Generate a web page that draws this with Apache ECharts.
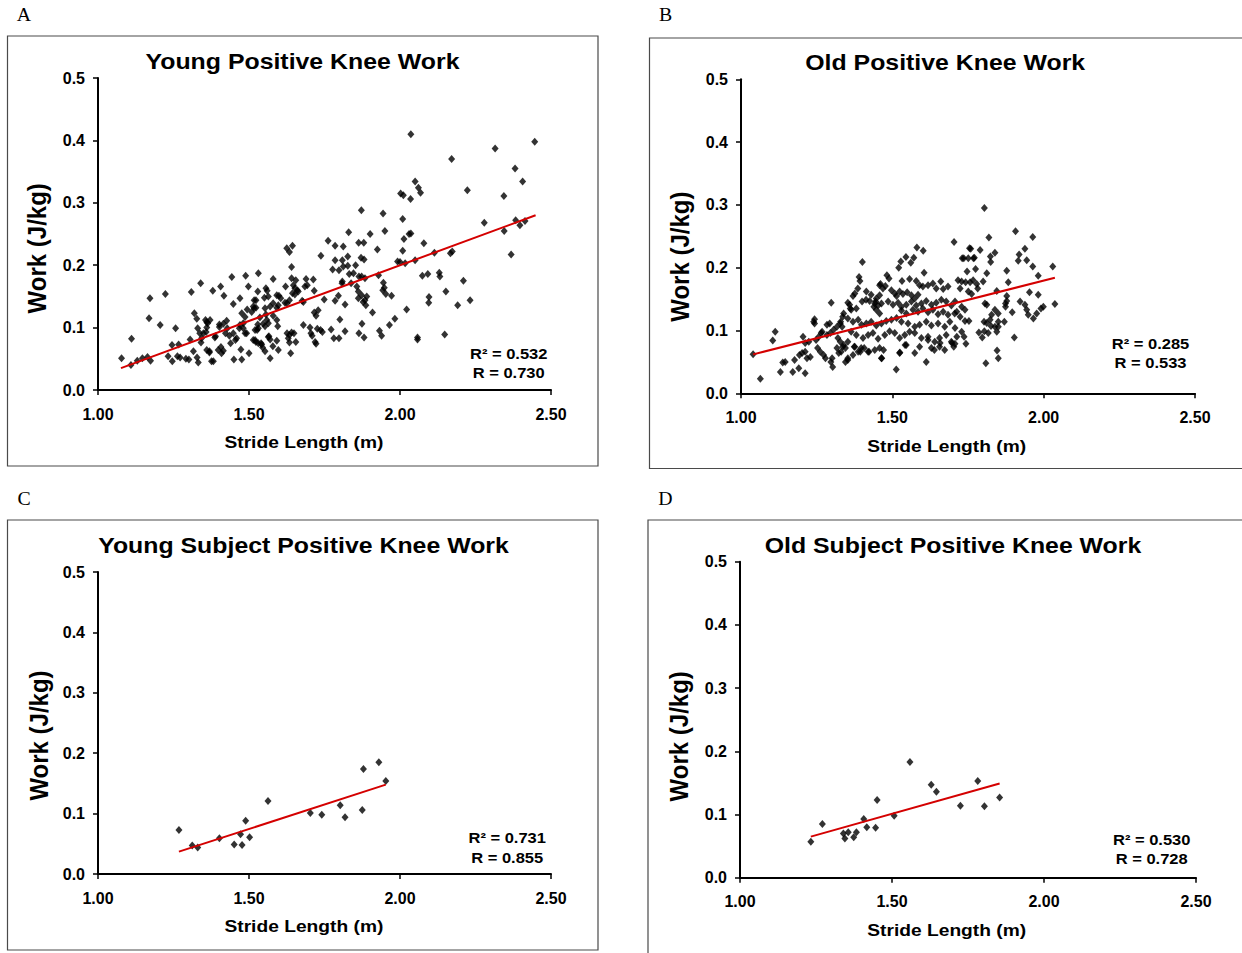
<!DOCTYPE html>
<html><head><meta charset="utf-8">
<script src="https://cdn.jsdelivr.net/npm/echarts@6.0.0/dist/echarts.min.js"></script>
<style>html,body{margin:0;padding:0;background:#fff}#c{width:1242px;height:953px}</style>
</head><body><div id="c"></div>
<script>
// ---------------- data ----------------
const panelLetters = ['A', 'B', 'C', 'D'];
const panelTitles = ['Young Positive Knee Work', 'Old Positive Knee Work', 'Young Subject Positive Knee Work', 'Old Subject Positive Knee Work'];
const xAxisTitle = 'Stride Length (m)';
const yAxisTitle = 'Work (J/kg)';
const xRange = [1.0, 2.5, 0.5];   // min, max, interval
const yRange = [0.0, 0.5, 0.1];
const statsR2 = ['0.532', '0.285', '0.731', '0.530'];
const statsR = ['0.730', '0.533', '0.855', '0.728'];

const youngAll = [
[1.078,0.051],[1.109,0.040],[1.111,0.082],[1.130,0.047],[1.147,0.051],[1.164,0.053],[1.174,0.047],[1.169,0.115],[1.172,0.147],[1.206,0.104],
[1.223,0.154],[1.232,0.054],[1.245,0.072],[1.246,0.046],[1.257,0.099],[1.263,0.054],[1.272,0.052],[1.267,0.073],[1.291,0.050],[1.301,0.049],
[1.305,0.081],[1.309,0.157],[1.319,0.123],[1.327,0.114],[1.316,0.062],[1.328,0.052],[1.332,0.044],[1.340,0.171],[1.349,0.091],[1.360,0.100],
[1.360,0.109],[1.371,0.112],[1.358,0.093],[1.341,0.076],[1.360,0.064],[1.369,0.060],[1.376,0.046],[1.380,0.159],[1.387,0.084],[1.398,0.064],
[1.407,0.069],[1.415,0.063],[1.406,0.166],[1.417,0.151],[1.402,0.101],[1.415,0.106],[1.426,0.111],[1.435,0.087],[1.439,0.075],[1.443,0.181],
[1.448,0.138],[1.450,0.049],[1.476,0.049],[1.459,0.083],[1.473,0.065],[1.470,0.147],[1.476,0.123],[1.487,0.117],[1.470,0.104],[1.481,0.099],
[1.492,0.091],[1.489,0.183],[1.498,0.166],[1.500,0.059],[1.509,0.125],[1.517,0.131],[1.514,0.080],[1.517,0.144],[1.531,0.187],
[1.330,0.099],[1.337,0.091],[1.343,0.083],[1.356,0.112],[1.363,0.107],[1.369,0.062],[1.382,0.046],[1.389,0.086],[1.402,0.105],[1.409,0.059],
[1.422,0.091],[1.428,0.099],[1.448,0.091],[1.455,0.080],[1.468,0.099],[1.481,0.107],[1.487,0.091],[1.494,0.129],[1.514,0.134],[1.520,0.080],
[1.527,0.096],[1.540,0.075],[1.553,0.102],[1.566,0.086],[1.579,0.070],[1.592,0.112],
[2.036,0.410],[2.050,0.334],[2.002,0.315],[2.011,0.312],[2.035,0.306],[2.009,0.274],[1.872,0.288],[1.944,0.283],[1.950,0.255],[2.030,0.250],
[2.036,0.251],[2.013,0.242],[2.009,0.223],[1.830,0.253],[1.901,0.250],[1.762,0.239],[1.785,0.231],[1.812,0.230],[1.863,0.236],[1.880,0.236],
[1.925,0.225],[1.625,0.227],[1.634,0.221],[1.644,0.231],[1.641,0.197],[1.738,0.215],[1.785,0.208],[1.809,0.208],[1.827,0.214],[1.777,0.193],
[1.798,0.192],[1.812,0.198],[1.827,0.199],[1.853,0.200],[1.871,0.212],[1.881,0.209],[1.832,0.186],[1.846,0.187],[1.809,0.174],[1.808,0.171],
[1.838,0.171],[1.864,0.182],[1.873,0.182],[1.884,0.179],[1.857,0.166],[1.862,0.158],[1.873,0.152],[1.884,0.144],[1.890,0.150],[1.862,0.147],
[1.878,0.141],[1.887,0.136],[1.929,0.184],[1.945,0.172],[1.948,0.164],[1.943,0.160],[1.953,0.154],[1.972,0.151],[1.909,0.124],[2.022,0.129],
[1.983,0.114],[1.965,0.104],[1.932,0.095],[1.939,0.087],[1.874,0.106],[1.864,0.091],[1.881,0.084],[1.749,0.145],[1.729,0.128],[1.716,0.124],
[1.722,0.119],[1.713,0.177],[1.689,0.178],[1.693,0.168],[1.655,0.176],[1.660,0.160],[1.663,0.158],[1.641,0.179],[1.647,0.168],[1.621,0.166],
[1.644,0.155],[1.652,0.163],[1.676,0.143],[1.634,0.144],[1.626,0.139],[1.619,0.140],[1.599,0.151],[1.605,0.147],[1.592,0.152],[1.685,0.166],
[1.716,0.159],[1.580,0.178],[1.556,0.163],[1.560,0.159],[1.523,0.144],[1.529,0.158],[1.551,0.148],[1.564,0.150],[1.523,0.132],[1.553,0.131],
[1.570,0.134],[1.580,0.139],[1.592,0.132],[1.597,0.136],[1.556,0.121],[1.580,0.119],[1.536,0.116],[1.559,0.112],[1.529,0.105],[1.547,0.106],
[1.564,0.107],[1.520,0.096],[1.531,0.099],[1.595,0.102],[1.680,0.141],[1.652,0.153],[1.680,0.104],[1.702,0.100],[1.705,0.091],[1.709,0.087],
[1.719,0.077],[1.722,0.074],[1.726,0.098],[1.737,0.096],[1.743,0.093],[1.772,0.097],[1.781,0.083],[1.798,0.083],[1.801,0.113],[1.818,0.094],
[1.818,0.137],[1.796,0.151],[1.785,0.143],[1.626,0.091],[1.634,0.088],[1.641,0.092],[1.649,0.091],[1.655,0.077],[1.630,0.083],[1.634,0.076],
[1.638,0.059],[1.597,0.064],[1.570,0.051],[1.564,0.085],[1.570,0.081],[1.592,0.079],[1.523,0.077],[1.531,0.075],[1.542,0.073],[1.545,0.068],
[1.553,0.062],[1.992,0.206],[2.000,0.205],
[2.171,0.370],[2.315,0.387],[2.446,0.398],[2.381,0.355],[2.406,0.334],[2.061,0.324],[2.068,0.316],[2.223,0.320],[2.344,0.311],[2.279,0.268],
[2.383,0.272],[2.397,0.264],[2.414,0.271],[2.345,0.255],[2.368,0.217],[2.079,0.235],[2.114,0.220],[2.167,0.219],[2.173,0.222],[2.017,0.203],
[2.050,0.208],[2.074,0.183],[2.092,0.186],[2.130,0.188],[2.132,0.182],[2.210,0.175],[2.152,0.158],[2.096,0.149],[2.095,0.140],[2.191,0.136],
[2.232,0.144],[2.058,0.084],[2.058,0.081],[2.148,0.089]
];

const oldAll = [
[1.040,0.062],[1.064,0.023],[1.105,0.084],[1.113,0.098],[1.130,0.034],[1.138,0.049],[1.146,0.050],[1.171,0.034],[1.177,0.053],[1.191,0.040],
[1.193,0.061],[1.202,0.064],[1.205,0.090],[1.212,0.032],[1.212,0.066],[1.218,0.056],[1.229,0.058],[1.212,0.080],[1.224,0.082],[1.240,0.114],
[1.243,0.111],[1.248,0.085],[1.257,0.090],[1.268,0.098],[1.253,0.072],[1.262,0.066],[1.273,0.061],[1.279,0.056],[1.293,0.111],[1.298,0.144],
[1.284,0.093],[1.295,0.096],[1.306,0.101],[1.301,0.056],[1.303,0.042],[1.317,0.106],[1.328,0.111],[1.334,0.106],[1.320,0.088],[1.328,0.082],
[1.339,0.077],[1.345,0.072],[1.317,0.072],[1.323,0.064],[1.331,0.066],[1.353,0.144],[1.361,0.135],[1.339,0.127],[1.345,0.050],[1.353,0.056],
[1.704,0.241],[1.581,0.232],[1.602,0.227],[1.545,0.217],[1.571,0.216],[1.528,0.210],[1.521,0.200],[1.561,0.208],[1.401,0.209],[1.605,0.192],
[1.482,0.188],[1.489,0.183],[1.390,0.185],[1.393,0.179],[1.386,0.167],[1.557,0.182],[1.532,0.179],[1.579,0.179],[1.590,0.172],[1.601,0.170],
[1.618,0.172],[1.634,0.175],[1.645,0.167],[1.660,0.178],[1.668,0.166],[1.684,0.170],[1.461,0.174],[1.469,0.167],[1.477,0.171],[1.497,0.164],
[1.508,0.159],[1.514,0.155],[1.524,0.162],[1.535,0.158],[1.549,0.161],[1.563,0.156],[1.574,0.151],[1.585,0.157],[1.376,0.159],[1.370,0.155],
[1.414,0.162],[1.430,0.157],[1.447,0.151],[1.458,0.156],[1.400,0.146],[1.425,0.147],[1.442,0.143],[1.453,0.140],[1.464,0.143],[1.486,0.146],
[1.502,0.141],[1.519,0.144],[1.530,0.138],[1.546,0.141],[1.563,0.146],[1.579,0.140],[1.596,0.143],[1.612,0.147],[1.629,0.141],[1.645,0.144],
[1.662,0.149],[1.678,0.146],[1.695,0.140],[1.359,0.141],[1.364,0.133],[1.381,0.135],[1.447,0.133],[1.458,0.127],[1.530,0.132],[1.546,0.127],
[1.568,0.133],[1.585,0.130],[1.601,0.135],[1.618,0.129],[1.634,0.133],[1.651,0.126],[1.668,0.130],[1.684,0.125],[1.706,0.127],[1.353,0.119],
[1.370,0.114],[1.387,0.117],[1.398,0.109],[1.414,0.111],[1.430,0.114],[1.447,0.108],[1.464,0.111],[1.480,0.115],[1.497,0.117],[1.514,0.120],
[1.530,0.114],[1.552,0.111],[1.574,0.106],[1.590,0.109],[1.612,0.114],[1.629,0.108],[1.651,0.111],[1.673,0.106],[1.690,0.114],[1.364,0.098],
[1.381,0.093],[1.403,0.088],[1.420,0.093],[1.436,0.096],[1.453,0.087],[1.475,0.093],[1.491,0.099],[1.508,0.096],[1.524,0.088],[1.541,0.093],
[1.557,0.098],[1.574,0.096],[1.596,0.088],[1.618,0.090],[1.640,0.082],[1.656,0.088],[1.678,0.093],[1.695,0.082],[1.353,0.082],[1.376,0.074],
[1.397,0.072],[1.420,0.066],[1.442,0.069],[1.458,0.072],[1.464,0.056],[1.353,0.053],[1.370,0.061],[1.387,0.066],[1.524,0.064],[1.546,0.077],
[1.574,0.064],[1.590,0.074],[1.612,0.050],[1.618,0.085],[1.629,0.072],[1.656,0.074],[1.673,0.069],[1.513,0.038],
[1.804,0.295],[1.907,0.258],[1.964,0.249],[1.819,0.248],[1.731,0.215],[1.751,0.215],[1.771,0.216],[1.759,0.230],[1.790,0.228],[1.824,0.218],
[1.839,0.224],[1.825,0.209],[1.938,0.230],[1.919,0.221],[1.916,0.211],[1.944,0.212],[1.964,0.202],[2.030,0.202],[1.775,0.198],[1.747,0.194],
[1.812,0.191],[1.878,0.195],[1.982,0.187],[1.717,0.180],[1.729,0.178],[1.742,0.177],[1.757,0.177],[1.767,0.180],[1.779,0.174],[1.800,0.178],
[1.883,0.177],[1.724,0.167],[1.751,0.162],[1.762,0.158],[1.782,0.167],[1.845,0.163],[1.953,0.161],[1.982,0.157],[1.878,0.155],[1.878,0.147],
[1.922,0.146],[1.938,0.141],[1.944,0.133],[1.949,0.125],[1.966,0.119],[1.977,0.127],[1.991,0.135],[1.999,0.138],[2.037,0.142],[1.874,0.143],
[1.874,0.138],[1.896,0.129],[1.806,0.143],[1.812,0.141],[1.839,0.133],[1.850,0.127],[1.828,0.125],[1.823,0.117],[1.850,0.114],[1.870,0.114],
[1.839,0.106],[1.707,0.146],[1.729,0.138],[1.740,0.133],[1.713,0.130],[1.724,0.122],[1.740,0.115],[1.753,0.115],[1.707,0.104],[1.729,0.098],
[1.713,0.090],[1.737,0.090],[1.743,0.079],[1.707,0.079],[1.803,0.114],[1.812,0.112],[1.804,0.099],[1.817,0.096],[1.826,0.107],[1.845,0.098],
[1.850,0.106],[1.786,0.097],[1.797,0.089],[1.903,0.089],[1.846,0.068],[1.850,0.056],[1.809,0.048],
[1.297,0.050],[1.336,0.074],[1.374,0.074],[1.394,0.066],[1.407,0.072],[1.423,0.066],[1.465,0.056],[1.471,0.069],[1.525,0.065],[1.542,0.077],
[1.639,0.069],[1.658,0.080],[1.697,0.080],[1.703,0.074],[1.243,0.118],[1.265,0.096],[1.284,0.109],[1.329,0.114],[1.336,0.122],[1.413,0.149],
[1.439,0.138],[1.445,0.146],[1.458,0.172],[1.736,0.215],[1.755,0.231],[1.768,0.215]
];

const youngSubj = [
[1.268,0.073],[1.312,0.047],[1.330,0.044],[1.402,0.059],[1.451,0.049],[1.472,0.066],[1.477,0.048],[1.489,0.088],[1.502,0.061],[1.563,0.121],
[1.703,0.101],[1.741,0.098],[1.802,0.114],[1.818,0.094],[1.875,0.106],[1.879,0.174],[1.930,0.185],[1.953,0.154]
];

const oldSubj = [
[1.233,0.057],[1.271,0.085],[1.340,0.070],[1.345,0.062],[1.356,0.072],[1.374,0.064],[1.383,0.072],[1.407,0.093],[1.417,0.080],[1.446,0.079],
[1.451,0.123],[1.507,0.098],[1.559,0.183],[1.629,0.147],[1.646,0.136],[1.725,0.114],[1.782,0.153],[1.804,0.113],[1.854,0.127]
];

// linear trend lines (endpoints in data units)
const trendYoungAll = [[1.076, 0.035], [2.449, 0.280]];
const trendOldAll = [[1.040, 0.062], [2.037, 0.184]];
const trendYoungSubj = [[1.268, 0.037], [1.953, 0.148]];
const trendOldSubj = [[1.233, 0.065], [1.854, 0.149]];

// ---------------- layout ----------------
const FONT = '"Liberation Sans", Arial, Helvetica, sans-serif';
const STRETCH = 1.13; // the source figure's text is slightly widened
const layout = [
  { grid: {left: 98, top: 78, width: 453, height: 312}, frame: [7.5, 36, 590.5, 430], letter: [24, 15], title: [302.5, 61.5], xname: [303.9, 442.8], yname: [37, 248.3], stats: [508.7, 353.5, 372.5] },
  { grid: {left: 741, top: 79.3, width: 454, height: 314}, frame: [649.5, 38, 620, 430.5], letter: [665.7, 14.5], title: [945.2, 62.5], xname: [946.7, 446], yname: [680.2, 256.7], stats: [1150.5, 343.8, 362.8] },
  { grid: {left: 98, top: 572, width: 453, height: 302}, frame: [7.5, 520, 590.5, 430], letter: [24.1, 498.8], title: [303.5, 545.7], xname: [303.9, 926], yname: [39, 735.5], stats: [507.2, 838.2, 857.5] },
  { grid: {left: 740, top: 561.7, width: 456, height: 316}, frame: [648, 520, 620, 450], letter: [665.5, 499.3], title: [953, 545.7], xname: [946.7, 930.5], yname: [679.4, 736.3], stats: [1151.7, 840, 859.2] }
];
const pointSets = [youngAll, oldAll, youngSubj, oldSubj];
const trendSets = [trendYoungAll, trendOldAll, trendYoungSubj, trendOldSubj];

function label(x, y, text, font, extra) {
  return Object.assign({type: 'text', x: x, y: y, silent: true,
    style: {text: text, fill: '#000', font: font, align: 'center', verticalAlign: 'middle'}}, extra || {});
}

const grids = [], xAxes = [], yAxes = [], series = [], graphics = [];
layout.forEach((L, i) => {
  grids.push(Object.assign({containLabel: false, outerBoundsMode: 'none'}, L.grid));
  xAxes.push({
    type: 'value', gridIndex: i, min: xRange[0], max: xRange[1], interval: xRange[2],
    axisLine: {show: true, onZero: false, lineStyle: {color: '#000', width: 2}},
    axisTick: {show: true, inside: false, length: 5, lineStyle: {color: '#000', width: 1.5}},
    splitLine: {show: false},
    axisLabel: {formatter: v => v.toFixed(2), color: '#000', fontWeight: 'bold', fontSize: 16, fontFamily: FONT, margin: 16}
  });
  yAxes.push({
    type: 'value', gridIndex: i, min: yRange[0], max: yRange[1], interval: yRange[2],
    axisLine: {show: true, onZero: false, lineStyle: {color: '#000', width: 2}},
    axisTick: {show: true, inside: false, length: 5, lineStyle: {color: '#000', width: 1.5}},
    splitLine: {show: false},
    axisLabel: {formatter: v => v.toFixed(1), color: '#000', fontWeight: 'bold', fontSize: 16, fontFamily: FONT, margin: 13}
  });
  series.push({
    type: 'scatter', xAxisIndex: i, yAxisIndex: i, data: pointSets[i],
    symbol: 'diamond', symbolSize: [7, 8], itemStyle: {color: '#000'}, silent: true, z: 2
  });
  series.push({
    type: 'line', xAxisIndex: i, yAxisIndex: i, data: trendSets[i],
    symbol: 'none', lineStyle: {color: '#d40000', width: 2}, silent: true, z: 3
  });
  const f = L.frame;
  graphics.push({type: 'rect', shape: {x: f[0], y: f[1], width: f[2], height: f[3]}, style: {fill: 'none', stroke: '#4a4a4a', lineWidth: 1.2}, z: -10, silent: true});
  graphics.push(label(L.letter[0], L.letter[1], panelLetters[i], '18px "Liberation Serif", "Times New Roman", serif', {scaleX: 1.1}));
  graphics.push(label(L.title[0], L.title[1], panelTitles[i], 'bold 22px ' + FONT, {scaleX: STRETCH}));
  graphics.push(label(L.xname[0], L.xname[1], xAxisTitle, 'bold 17px ' + FONT, {scaleX: STRETCH}));
  graphics.push(label(L.yname[0], L.yname[1], yAxisTitle, 'bold 24px ' + FONT, {rotation: Math.PI / 2, scaleY: 1.05}));
  graphics.push(label(L.stats[0], L.stats[1], 'R\u00B2 = ' + statsR2[i], 'bold 15px ' + FONT, {scaleX: 1.1}));
  graphics.push(label(L.stats[0], L.stats[2], 'R = ' + statsR[i], 'bold 15px ' + FONT, {scaleX: 1.1}));
});

const chart = echarts.init(document.getElementById('c'), null, {renderer: 'svg', width: 1242, height: 953});
chart.setOption({
  backgroundColor: '#fff',
  animation: false,
  grid: grids, xAxis: xAxes, yAxis: yAxes, series: series,
  graphic: graphics
});
</script>
</body></html>
